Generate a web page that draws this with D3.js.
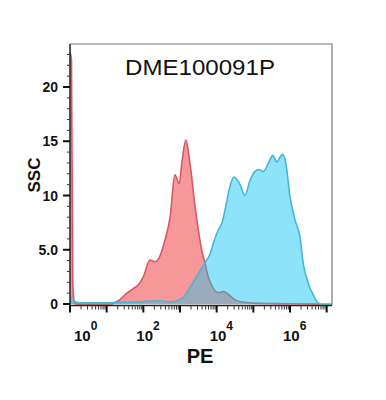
<!DOCTYPE html>
<html>
<head>
<meta charset="utf-8">
<script src="https://cdn.jsdelivr.net/npm/d3@7"></script>
<style>
  body { margin: 0; background: #fff; }
  svg { display: block; font-family: "Liberation Sans", Arial, sans-serif; }
</style>
</head>
<body>
<div id="chart"></div>
<script>
// histogram values: log10(PE) and SSC count
const redLogPE = [0, 0.04, 0.075, 0.11, 0.16, 1.1, 1.18, 1.36, 1.55, 1.72, 1.86, 2.0, 2.18, 2.32, 2.45, 2.59, 2.73, 2.86, 2.98, 3.05, 3.16, 3.27, 3.41, 3.5, 3.59, 3.68, 3.77, 3.86, 4.0, 4.09, 4.18, 4.27, 4.45, 4.64, 4.91, 5.32, 6.0, 6.82];
const redCount = [23.2, 22.5, 2.0, 0.3, 0, 0, 0.05, 0.4, 1.0, 1.4, 1.75, 2.5, 4.05, 3.9, 4.4, 5.9, 8.0, 11.9, 11.1, 13.0, 15.1, 13.0, 9.0, 6.8, 5.0, 3.8, 2.5, 1.75, 1.1, 1.05, 1.15, 1.0, 0.5, 0.2, 0.1, 0.05, 0.03, 0];

const blueLogPE = [0, 0.05, 0.14, 0.27, 0.82, 1.36, 1.91, 2.45, 2.73, 2.89, 3.0, 3.09, 3.18, 3.27, 3.45, 3.68, 3.82, 3.91, 4.04, 4.14, 4.23, 4.36, 4.47, 4.64, 4.77, 4.91, 5.04, 5.16, 5.27, 5.41, 5.53, 5.64, 5.79, 5.88, 6.0, 6.14, 6.27, 6.36, 6.5, 6.64, 6.77, 6.86, 7.14];
const blueCount = [0.6, 0.6, 0.2, 0.1, 0.1, 0.15, 0.2, 0.3, 0.2, 0.25, 0.4, 0.6, 1.0, 1.5, 2.5, 3.8, 4.6, 5.6, 6.8, 7.4, 8.7, 10.8, 11.7, 11.0, 10.0, 11.4, 12.2, 12.4, 12.2, 13.0, 13.7, 13.1, 13.8, 13.1, 9.9, 7.7, 6.2, 3.75, 1.9, 0.8, 0.1, 0, 0];

const yTicks = [0, 5, 10, 15, 20];
const yTickLabels = ['0', '5.0', '10', '15', '20'];
const xLabelExps = [0, 2, 4, 6];
const title = 'DME100091P';

const width = 386, height = 400;
const margin = { top: 44, right: 54, bottom: 96, left: 70 };

const svg = d3.select('#chart').append('svg')
  .attr('width', width)
  .attr('height', height);

const x = d3.scaleLog().domain([1, Math.pow(10, 7.145)]).range([margin.left, width - margin.right]);
const y = d3.scaleLinear().domain([0, 24]).range([height - margin.bottom, margin.top - 0.4]);

const red = redLogPE.map((e, i) => ({ pe: Math.pow(10, e), v: redCount[i] }));
const blue = blueLogPE.map((e, i) => ({ pe: Math.pow(10, e), v: blueCount[i] }));

const area = d3.area()
  .x(d => x(d.pe))
  .y0(y(0))
  .y1(d => y(d.v))
  .curve(d3.curveMonotoneX);
const line = d3.line()
  .x(d => x(d.pe))
  .y(d => y(d.v))
  .curve(d3.curveMonotoneX);

svg.append('clipPath').attr('id', 'blueClip')
  .append('path').attr('d', area(blue));

// frame (top / right)
svg.append('path')
  .attr('d', `M${x.range()[0]},${margin.top}H${x.range()[1]}V${y(0) + 1}`)
  .attr('fill', 'none')
  .attr('stroke', '#777')
  .attr('stroke-width', 1.2);

svg.append('path').attr('d', area(red)).attr('fill', '#f69799');
svg.append('path').attr('d', line(red)).attr('fill', 'none').attr('stroke', '#dc5666').attr('stroke-width', 1.6);
svg.append('path').attr('d', area(blue)).attr('fill', '#8de3fa');

const overlap = svg.append('g').attr('clip-path', 'url(#blueClip)');
overlap.append('path').attr('d', area(red)).attr('fill', '#9aabbd');
overlap.append('path').attr('d', line(red)).attr('fill', 'none').attr('stroke', '#7d8b9c').attr('stroke-width', 1.6);

svg.append('path').attr('d', line(blue)).attr('fill', 'none').attr('stroke', '#46b6d6').attr('stroke-width', 1.6);

// y axis
const yMinor = d3.range(0, 24);
const yAxis = svg.append('g').attr('transform', `translate(${margin.left},0)`);
yAxis.append('line')
  .attr('x1', 0).attr('x2', 0)
  .attr('y1', margin.top).attr('y2', y(0) + 2)
  .attr('stroke', '#222').attr('stroke-width', 1.5);
yAxis.selectAll('.minor').data(yMinor).join('line')
  .attr('class', 'minor')
  .attr('x1', -3).attr('x2', 0)
  .attr('y1', d => y(d)).attr('y2', d => y(d))
  .attr('stroke', '#333').attr('stroke-width', 1);
yAxis.selectAll('.major').data(yTicks).join('line')
  .attr('class', 'major')
  .attr('x1', -7).attr('x2', 0)
  .attr('y1', d => y(d)).attr('y2', d => y(d))
  .attr('stroke', '#111').attr('stroke-width', 2);
yAxis.selectAll('text').data(yTicks).join('text')
  .attr('x', -12)
  .attr('y', d => y(d) + 5)
  .attr('text-anchor', 'end')
  .attr('font-size', 14)
  .attr('font-weight', 'bold')
  .attr('fill', '#111')
  .text((d, i) => yTickLabels[i]);

// x axis
const axisY = y(0) + 1.5;
const xMajor = d3.range(0, 8).map(e => Math.pow(10, e));
const xMinor = [];
d3.range(0, 7).forEach(e => d3.range(2, 10).forEach(m => xMinor.push(m * Math.pow(10, e))));
const xAxis = svg.append('g');
xAxis.append('line')
  .attr('x1', x.range()[0]).attr('x2', x.range()[1])
  .attr('y1', axisY).attr('y2', axisY)
  .attr('stroke', '#222').attr('stroke-width', 1.5);
xAxis.selectAll('.minor').data(xMinor).join('line')
  .attr('class', 'minor')
  .attr('x1', d => x(d)).attr('x2', d => x(d))
  .attr('y1', axisY).attr('y2', axisY + 4)
  .attr('stroke', '#333').attr('stroke-width', 1);
xAxis.selectAll('.major').data(xMajor).join('line')
  .attr('class', 'major')
  .attr('x1', d => x(d)).attr('x2', d => x(d))
  .attr('y1', axisY).attr('y2', axisY + 7)
  .attr('stroke', '#111').attr('stroke-width', 2);
const xl = xAxis.selectAll('text').data(xLabelExps).join('text')
  .attr('x', d => Math.max(x(Math.pow(10, d)) - 7, 74))
  .attr('y', 341)
  .attr('font-size', 15)
  .attr('font-weight', 'bold')
  .attr('fill', '#111');
xl.append('tspan').text('10');
xl.append('tspan').attr('dy', -11).attr('font-size', 12).text(d => d);

// titles
svg.append('text')
  .attr('x', 200).attr('y', 75)
  .attr('text-anchor', 'middle')
  .attr('font-size', 22)
  .attr('textLength', 150)
  .attr('lengthAdjust', 'spacingAndGlyphs')
  .attr('fill', '#111')
  .text(title);

svg.append('text')
  .attr('transform', `translate(40,175) rotate(-90)`)
  .attr('text-anchor', 'middle')
  .attr('font-size', 17)
  .attr('font-weight', 'bold')
  .attr('fill', '#111')
  .text('SSC');

svg.append('text')
  .attr('x', 200).attr('y', 363)
  .attr('text-anchor', 'middle')
  .attr('font-size', 20)
  .attr('font-weight', 'bold')
  .attr('fill', '#111')
  .text('PE');
</script>
</body>
</html>
